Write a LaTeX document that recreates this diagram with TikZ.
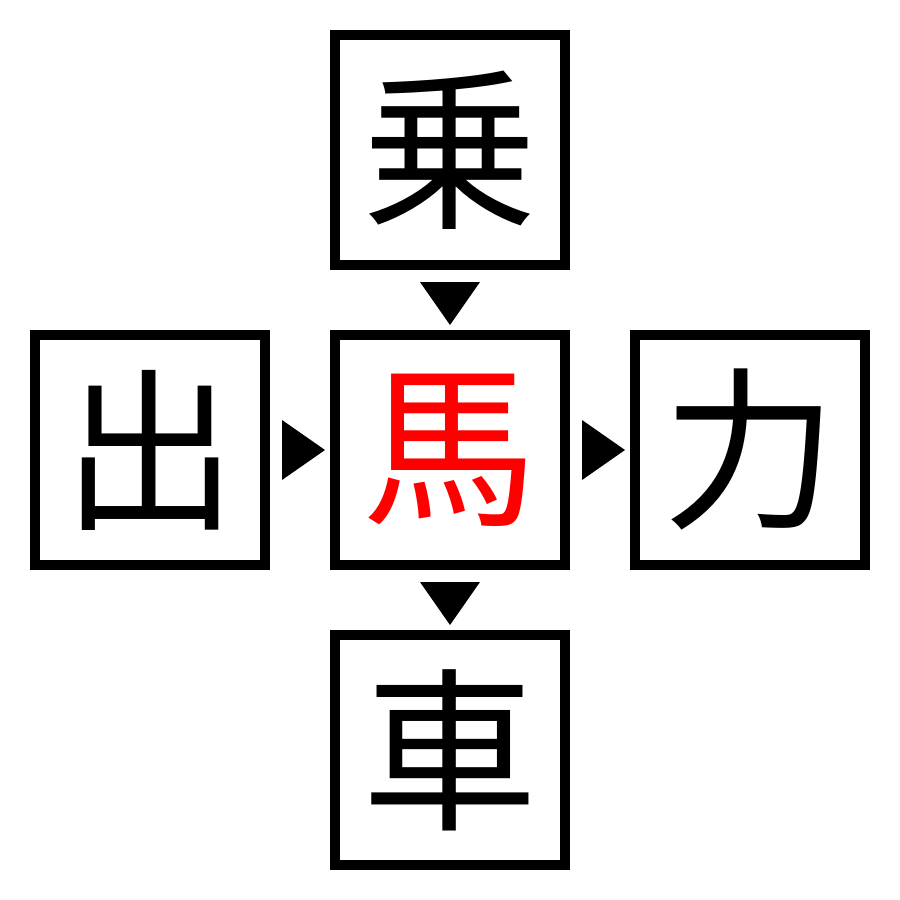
\documentclass[tikz,border=0pt]{standalone}
\usepackage{fontspec}
\newfontfamily\cjk{Noto Sans CJK JP}
\begin{document}
\begin{tikzpicture}[x=1pt,y=-1pt,
  kbox/.style={draw=black,line width=10pt,minimum size=230pt,inner sep=0pt,font=\cjk\fontsize{175}{175}\selectfont,text=black},
  tri/.style={fill=black,draw=none}]
\path[use as bounding box] (0,0) rectangle (900,900);
\node[kbox] (top) at (450,150) {乗};
\node[kbox,text=red] (mid) at (450,450) {馬};
\node[kbox] (left) at (150,450) {出};
\node[kbox] (right) at (750,450) {力};
\node[kbox] (bot) at (450,750) {車};
\fill[tri] (420,282) -- (480,282) -- (450,325) -- cycle;
\fill[tri] (420,582) -- (480,582) -- (450,625) -- cycle;
\fill[tri] (282,420) -- (282,480) -- (325,450) -- cycle;
\fill[tri] (582,420) -- (582,480) -- (625,450) -- cycle;
\end{tikzpicture}
\end{document}
